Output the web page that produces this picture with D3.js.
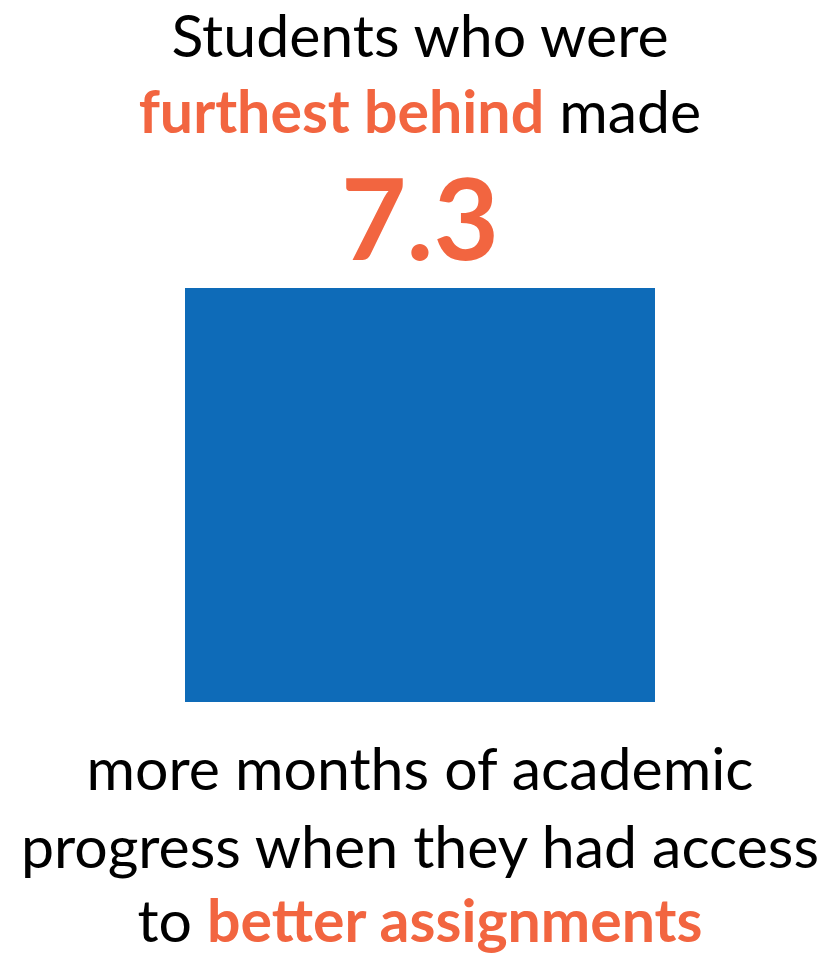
<!DOCTYPE html>
<head>
  <meta charset="utf-8">
  <script src="https://cdn.jsdelivr.net/npm/d3@7"></script>
  <style>
    body { margin: 0; background: #fff; }
    svg { display: block; font-family: Lato, 'Open Sans', sans-serif; }
  </style>
</head>
<body>
<div id=chart></div>
<script>
// data
const categories = ['furthest behind']
const values = [7.3]
const value_labels = ['7.3']
// text lines: [text, highlighted]
const title_lines = [
  [['Students who were', false]],
  [['furthest behind', true], [' made', false]],
]
const caption_lines = [
  [['more months of academic', false]],
  [['progress when they had access', false]],
  [['to ', false], ['better assignments', true]],
]

const width = 830, height = 954
const orange = '#f26540', blue = '#0e6bb8'
const cx = 420

const svg = d3.select('#chart').append('svg')
  .attr('width', width).attr('height', height)
  .attr('viewBox', [0, 0, width, height])

// bar
const x = d3.scaleBand().domain(categories).range([185, 655]).padding(0)
const y = d3.scaleLinear().domain([0, d3.max(values)]).range([702, 288])

svg.append('g').selectAll('rect').data(values).join('rect')
  .attr('x', (d, i) => x(categories[i]))
  .attr('width', x.bandwidth())
  .attr('y', d => y(d))
  .attr('height', d => y(0) - y(d))
  .attr('fill', blue)

svg.append('g').selectAll('text').data(values).join('text')
  .attr('x', (d, i) => x(categories[i]) + x.bandwidth() / 2)
  .attr('y', d => y(d) - 28)
  .attr('text-anchor', 'middle')
  .attr('font-size', 113)
  .attr('font-weight', 'bold')
  .attr('fill', orange)
  .text((d, i) => value_labels[i])

// text blocks
const draw_lines = (lines, baselines, size) => {
  lines.forEach((segs, i) => {
    const t = svg.append('text')
      .attr('x', cx).attr('y', baselines[i])
      .attr('text-anchor', 'middle')
      .attr('font-size', size)
    segs.forEach(([s, hi]) => {
      t.append('tspan')
        .attr('fill', hi ? orange : '#000')
        .attr('font-weight', hi ? 'bold' : 'normal')
        .text(s)
    })
  })
}
draw_lines(title_lines, [57, 133], 59)
draw_lines(caption_lines, [790, 868, 942], 59)
</script>
</body>
